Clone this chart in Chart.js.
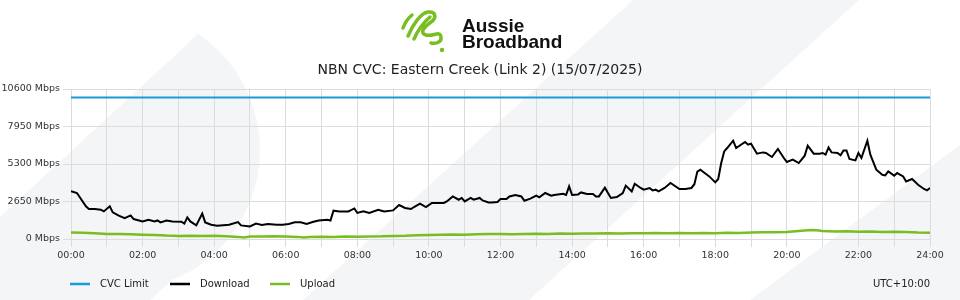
<!DOCTYPE html>
<html>
<head>
<meta charset="utf-8">
<title>NBN CVC: Eastern Creek (Link 2)</title>
<script src="https://cdn.jsdelivr.net/npm/chart.js@4.4.1/dist/chart.umd.min.js"></script>
<style>
  html, body { margin: 0; padding: 0; background: #ffffff; }
  #wrap { width: 960px; height: 300px; position: relative; }
</style>
</head>
<body>
<div id="wrap"><canvas id="cvcChart" width="960" height="300"></canvas></div>
<script>
// Дані графіка (хвилини від 00:00 -> Mbps)
const chartTitle = 'NBN CVC: Eastern Creek (Link 2) (15/07/2025)';
const timezoneLabel = 'UTC+10:00';
const seriesNames = ['CVC Limit', 'Download', 'Upload'];
const yTicks = [0, 2650, 5300, 7950, 10600];

const cvcMinutes = [0, 1440];
const cvcMbps = [10000, 10000];

const downloadMinutes = [
    0, 10, 25, 30, 40, 50, 55, 65, 70, 80, 90, 100, 105, 120, 130, 140, 145, 150, 160, 170,
    185, 190, 195, 200, 210, 220, 225, 235, 245, 265, 280, 285, 300, 310, 320, 330, 345, 355, 365, 375,
    385, 395, 405, 415, 430, 435, 440, 450, 460, 465, 475, 480, 490, 500, 515, 525, 540, 550, 560, 570,
    575, 585, 595, 605, 615, 625, 630, 640, 650, 655, 660, 670, 675, 685, 690, 700, 705, 715, 720, 730,
    735, 745, 755, 760, 770, 780, 785, 795, 805, 810, 825, 830, 835, 840, 850, 855, 865, 875, 880, 885,
    895, 905, 915, 925, 930, 940, 945, 955, 960, 970, 975, 980, 985, 995, 1005, 1020, 1030, 1040, 1045, 1050,
    1055, 1070, 1080, 1085, 1090, 1095, 1100, 1110, 1115, 1130, 1135, 1140, 1150, 1160, 1165, 1175, 1185, 1195, 1200, 1210,
    1220, 1230, 1235, 1240, 1245, 1255, 1260, 1265, 1270, 1275, 1285, 1290, 1295, 1300, 1305, 1315, 1320, 1325, 1335, 1340,
    1350, 1360, 1365, 1370, 1380, 1385, 1395, 1400, 1410, 1420, 1430, 1435, 1440
];
const downloadMbps = [
    3380, 3250, 2310, 2120, 2120, 2070, 1950, 2310, 1880, 1650, 1480, 1670, 1410, 1240, 1360, 1240, 1310, 1175, 1310, 1240,
    1225, 1085, 1530, 1240, 960, 1790, 1175, 1010, 940, 1010, 1200, 960, 890, 1085, 990, 1060, 1010, 1010, 1060, 1175,
    1175, 1060, 1200, 1310, 1360, 1310, 2000, 1950, 1950, 1950, 2160, 1840, 1950, 1840, 2070, 1950, 2020, 2400, 2190, 2120,
    2260, 2500, 2260, 2545, 2545, 2545, 2655, 3010, 2775, 2900, 2655, 2900, 2775, 2900, 2725, 2585, 2585, 2615, 2825, 2825,
    3010, 3110, 3010, 2705, 2850, 3060, 2940, 3250, 3060, 3110, 3200, 3110, 3720, 3110, 3150, 3290, 3180, 3180, 3010, 3010,
    3625, 2900, 2970, 3250, 3770, 3365, 3905, 3605, 3485, 3605, 3435, 3485, 3365, 3605, 3955, 3535, 3535, 3605, 3870, 4760,
    4900, 4425, 4000, 4240, 5370, 6190, 6430, 6945, 6430, 6855, 6665, 6740, 6030, 6120, 6080, 5795, 6360, 5725, 5440, 5605,
    5370, 5890, 6595, 6310, 6030, 6030, 6080, 5960, 6475, 6120, 6080, 5910, 6260, 6260, 5655, 5555, 6080, 5725, 6945, 5960,
    4900, 4540, 4490, 4775, 4475, 4660, 4425, 4070, 4240, 3835, 3535, 3435, 3605
];

const uploadMinutes = [
    0, 20, 40, 60, 80, 100, 120, 140, 160, 180, 200, 220, 240, 260, 280, 290, 300, 320, 340, 360,
    380, 390, 400, 420, 440, 460, 480, 500, 520, 540, 560, 580, 600, 620, 640, 660, 680, 700, 720, 740,
    760, 780, 800, 820, 840, 860, 880, 900, 920, 940, 960, 980, 1000, 1020, 1040, 1060, 1080, 1100, 1120, 1140,
    1160, 1180, 1200, 1220, 1240, 1250, 1260, 1280, 1300, 1320, 1340, 1360, 1380, 1400, 1420, 1440
];
const uploadMbps = [
    460, 440, 400, 360, 350, 330, 300, 280, 240, 220, 230, 210, 230, 200, 150, 110, 170, 180, 190, 170,
    150, 110, 140, 160, 150, 170, 160, 180, 190, 220, 230, 260, 280, 300, 310, 300, 330, 350, 360, 340,
    360, 370, 360, 380, 370, 390, 380, 400, 390, 410, 400, 420, 410, 430, 410, 420, 410, 440, 430, 460,
    480, 470, 500, 560, 630, 620, 570, 530, 540, 520, 530, 500, 520, 490, 460, 450
];

// Кольори
const colors = {
    cvc: '#1b9ad8',
    download: '#000000',
    upload: '#78be21',
    grid: '#dcdcdc',
    text: '#333333',
    bgShape: '#f4f5f7'
};

function toPoints(xs, ys) {
    return xs.map((x, i) => ({ x: x, y: ys[i] }));
}

function fmtTime(min) {
    const h = Math.floor(min / 60);
    return String(h).padStart(2, '0') + ':00';
}

// Фон з діагональними смугами
const backgroundPlugin = {
    id: 'bgShapes',
    beforeDraw(chart) {
        const ctx = chart.ctx;
        ctx.save();
        ctx.fillStyle = '#ffffff';
        ctx.fillRect(0, 0, chart.width, chart.height);
        ctx.fillStyle = colors.bgShape;

        // ліва кругла форма
        ctx.beginPath();
        ctx.moveTo(195, 37);
        ctx.arc(120, 150, 140, Math.atan2(-113, 75), Math.atan2(130, 52));
        ctx.lineTo(150, 300);
        ctx.lineTo(0, 300);
        ctx.lineTo(0, 217);
        ctx.closePath();
        ctx.fill();

        // середня смуга
        ctx.beginPath();
        ctx.moveTo(633, 0);
        ctx.lineTo(859, 0);
        ctx.lineTo(529, 300);
        ctx.lineTo(303, 300);
        ctx.closePath();
        ctx.fill();

        // правий кут
        ctx.beginPath();
        ctx.moveTo(960, 145);
        ctx.lineTo(960, 300);
        ctx.lineTo(750, 300);
        ctx.closePath();
        ctx.fill();
        ctx.restore();
    }
};

// Логотип, заголовок, легенда
const decorPlugin = {
    id: 'decor',
    afterDraw(chart) {
        const ctx = chart.ctx;
        ctx.save();

        // логотип (зелена "мапа")
        ctx.strokeStyle = colors.upload;
        ctx.fillStyle = colors.upload;
        ctx.lineWidth = 3.5;
        ctx.lineCap = 'round';
        ctx.lineJoin = 'round';
        ctx.beginPath();
        ctx.moveTo(403, 28);
        ctx.quadraticCurveTo(406, 20, 412, 15);
        ctx.moveTo(408, 36);
        ctx.bezierCurveTo(413, 24, 421, 13, 428, 12);
        ctx.bezierCurveTo(436, 11, 437, 18, 431, 22);
        ctx.bezierCurveTo(424, 27, 419, 33, 426, 35);
        ctx.bezierCurveTo(433, 37, 440, 30, 441, 37);
        ctx.bezierCurveTo(442, 42, 436, 44, 431, 43);
        ctx.moveTo(414, 39);
        ctx.bezierCurveTo(418, 30, 424, 22, 430, 17);
        ctx.stroke();
        ctx.beginPath();
        ctx.arc(442, 50, 2.2, 0, Math.PI * 2);
        ctx.fill();

        ctx.fillStyle = '#111111';
        ctx.font = 'bold 19px "Liberation Sans", Arial, sans-serif';
        ctx.textAlign = 'left';
        ctx.textBaseline = 'alphabetic';
        ctx.fillText('Aussie', 462, 32);
        ctx.fillText('Broadband', 462, 48);

        // заголовок
        ctx.fillStyle = '#222222';
        ctx.font = '14px "DejaVu Sans", sans-serif';
        ctx.textAlign = 'center';
        ctx.textBaseline = 'middle';
        ctx.fillText(chartTitle, 480, 70);

        // легенда
        const items = [
            { name: seriesNames[0], color: colors.cvc, x: 70 },
            { name: seriesNames[1], color: colors.download, x: 170 },
            { name: seriesNames[2], color: colors.upload, x: 270 }
        ];
        ctx.font = '10px "DejaVu Sans", sans-serif';
        ctx.textAlign = 'left';
        items.forEach(it => {
            ctx.strokeStyle = it.color;
            ctx.lineWidth = 2.5;
            ctx.lineCap = 'butt';
            ctx.beginPath();
            ctx.moveTo(it.x, 284);
            ctx.lineTo(it.x + 20, 284);
            ctx.stroke();
            ctx.fillStyle = '#222222';
            ctx.fillText(it.name, it.x + 30, 284);
        });

        ctx.textAlign = 'right';
        ctx.fillText(timezoneLabel, 930, 284);
        ctx.restore();
    }
};

function initChart() {
    Chart.defaults.font.family = '"DejaVu Sans", sans-serif';
    Chart.defaults.font.size = 9.5;
    Chart.defaults.color = colors.text;

    new Chart(document.getElementById('cvcChart'), {
        type: 'line',
        data: {
            datasets: [
                {
                    label: seriesNames[0],
                    data: toPoints(cvcMinutes, cvcMbps),
                    borderColor: colors.cvc,
                    borderWidth: 2
                },
                {
                    label: seriesNames[1],
                    data: toPoints(downloadMinutes, downloadMbps),
                    borderColor: colors.download,
                    borderWidth: 2
                },
                {
                    label: seriesNames[2],
                    data: toPoints(uploadMinutes, uploadMbps),
                    borderColor: colors.upload,
                    borderWidth: 2.5
                }
            ]
        },
        options: {
            responsive: false,
            animation: false,
            parsing: { xAxisKey: 'x', yAxisKey: 'y' },
            elements: { point: { radius: 0 }, line: { tension: 0 } },
            layout: { padding: { top: 89, right: 30, bottom: 31, left: 0 } },
            plugins: {
                legend: { display: false },
                title: { display: false },
                tooltip: { enabled: false }
            },
            scales: {
                x: {
                    type: 'linear',
                    min: 0,
                    max: 1440,
                    afterFit: axis => { axis.height = 30; },
                    ticks: {
                        stepSize: 60,
                        autoSkip: false,
                        maxRotation: 0,
                        padding: 3,
                        callback: v => (v % 120 === 0 ? fmtTime(v) : '')
                    },
                    grid: { color: colors.grid, tickLength: 8 },
                    border: { color: colors.grid }
                },
                y: {
                    min: 0,
                    max: yTicks[yTicks.length - 1],
                    afterFit: axis => { axis.width = 71; },
                    afterBuildTicks: axis => { axis.ticks = yTicks.map(v => ({ value: v })); },
                    ticks: {
                        padding: 3,
                        callback: v => v + ' Mbps'
                    },
                    grid: { color: colors.grid, tickLength: 8 },
                    border: { color: colors.grid }
                }
            }
        },
        plugins: [backgroundPlugin, decorPlugin]
    });
}

document.addEventListener('DOMContentLoaded', initChart);
</script>
</body>
</html>
